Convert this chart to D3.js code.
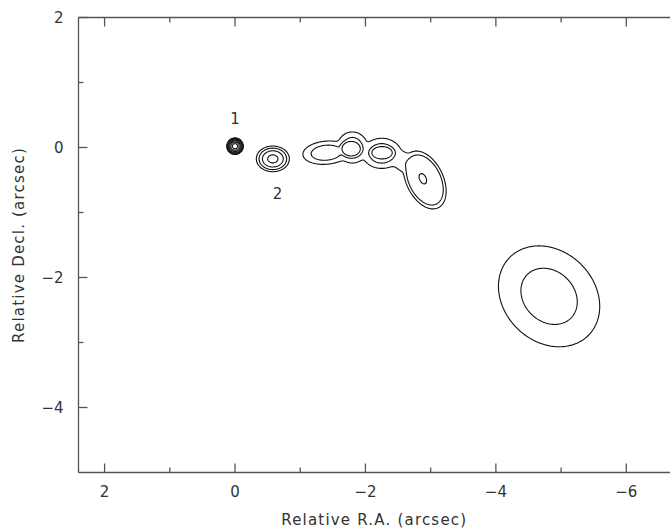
<!DOCTYPE html>
<html lang="en">
<head>
<meta charset="UTF-8">
<title>Contour map</title>
<script src="https://d3js.org/d3.v7.min.js"></script>
<style>
    body { margin: 0; background: #fff; }
    svg text { font-family: "DejaVu Sans", "Liberation Sans", sans-serif; fill: #333; font-size: 15px; }
    .frame { stroke: #555; stroke-width: 1.3; fill: none; }
    .contour { stroke: #111; stroke-width: 1.1; fill: none; }
</style>
</head>
<body>
<svg id="chart" width="670" height="531"></svg>
<script>
// axis ranges and ticks (arcsec)
const raDomain = [2.4, -6.67];
const decDomain = [2, -5];
const raMajor = [2, 0, -2, -4, -6];
const raMinor = [1, -1, -3, -5];
const decMajor = [2, 0, -2, -4];
const decMinor = [1, -1, -3];

// contour levels (arbitrary flux units)
const levels = [1, 2, 4, 8, 16, 32, 64];

// source components: position, widths, position angle, peak, profile shape
const compName  = ["src1", "src2", "J1", "J2", "J3", "neck", "knot", "coreA", "coreB", "dot", "knotCore", "beam"];
const compRA    = [0.00, -0.58, -1.40, -1.80, -2.25, -2.60, -2.91, -1.78, -2.255, -1.35, -2.88, -4.816];
const compDec   = [0.02, -0.175, -0.08, 0.00, -0.09, -0.23, -0.50, -0.02, -0.08, -0.05, -0.48, -2.29];
const compSigA  = [0.042, 0.118, 0.233, 0.15, 0.19, 0.22, 0.41, 0.158, 0.175, 0.02, 0.088, 0.60];
const compSigB  = [0.042, 0.092, 0.115, 0.155, 0.15, 0.13, 0.245, 0.124, 0.105, 0.02, 0.053, 0.49];
const compPA    = [0, 0, -5, 0, 0, 33, 64.5, 0, 0, 0, 64.5, 45];
const compPeak  = [100, 10, 3.3, 3.3, 3.3, 1.8, 3.3, 5, 5, 3.6, 5, 2.73];
const compShape = [1, 1, 1, 1, 1, 1, 3, 3, 3, 1, 3, 1];

// component labels
const labelText = ["1", "2"];
const labelRA   = [0.0, -0.65];
const labelDec  = [0.45, -0.70];

const svg = d3.select("#chart");
const margin = {left: 78.5, right: 0, top: 17.5, bottom: 58.5};
const W = +svg.attr("width"), H = +svg.attr("height");

const x = d3.scaleLinear().domain(raDomain).range([margin.left, W - margin.right]);
const y = d3.scaleLinear().domain(decDomain).range([margin.top, H - margin.bottom]);

// build the model grid
const step = 0.012;
const nx = Math.ceil((raDomain[0] - raDomain[1]) / step) + 1;
const ny = Math.ceil((decDomain[0] - decDomain[1]) / step) + 1;
const values = new Float64Array(nx * ny);
const K = 4; // soft-max exponent used to merge components

const comps = compName.map((n, i) => {
    const t = compPA[i] * Math.PI / 180;
    return {ra: compRA[i], dec: compDec[i], a: compSigA[i], b: compSigB[i],
            c: Math.cos(t), s: Math.sin(t), p: compPeak[i], k: compShape[i],
            reach: 4 * Math.max(compSigA[i], compSigB[i])};
});

for (let j = 0; j < ny; j++) {
    const dec = decDomain[0] - j * step;
    for (let i = 0; i < nx; i++) {
        const ra = raDomain[0] - i * step;
        let sum = 0;
        for (const c of comps) {
            const dx = ra - c.ra, dy = dec - c.dec;
            if (Math.abs(dx) > c.reach || Math.abs(dy) > c.reach) continue;
            const u = (dx * c.c + dy * c.s) / c.a;
            const v = (-dx * c.s + dy * c.c) / c.b;
            const q = u * u + v * v;
            const f = c.p * Math.exp(-0.5 * Math.pow(q, c.k));
            sum += Math.pow(f, K);
        }
        values[i + j * nx] = Math.pow(sum, 1 / K);
    }
}

const contours = d3.contours().size([nx, ny]).thresholds(levels)(values);

const gridToScreen = d3.geoTransform({
    point: function(gx, gy) {
        this.stream.point(x(raDomain[0] - (gx - 0.5) * step), y(decDomain[0] - (gy - 0.5) * step));
    }
});
const path = d3.geoPath(gridToScreen);

svg.append("clipPath").attr("id", "clip")
    .append("rect")
    .attr("x", margin.left).attr("y", margin.top)
    .attr("width", W - margin.left - margin.right)
    .attr("height", H - margin.top - margin.bottom);

svg.append("g")
    .attr("clip-path", "url(#clip)")
    .selectAll("path")
    .data(contours)
    .join("path")
    .attr("class", "contour")
    .attr("d", path);

// frame (left, top, bottom)
const frame = svg.append("g").attr("class", "frame");
frame.append("line").attr("x1", margin.left).attr("x2", W).attr("y1", margin.top).attr("y2", margin.top);
frame.append("line").attr("x1", margin.left).attr("x2", W).attr("y1", H - margin.bottom).attr("y2", H - margin.bottom);
frame.append("line").attr("x1", margin.left).attr("x2", margin.left).attr("y1", margin.top).attr("y2", H - margin.bottom);

// ticks pointing inward
const yTop = margin.top, yBot = H - margin.bottom;
const ticks = svg.append("g").attr("class", "frame");
raMajor.forEach(v => {
    ticks.append("line").attr("x1", x(v)).attr("x2", x(v)).attr("y1", yTop).attr("y2", yTop + 9);
    ticks.append("line").attr("x1", x(v)).attr("x2", x(v)).attr("y1", yBot).attr("y2", yBot - 9);
});
raMinor.forEach(v => {
    ticks.append("line").attr("x1", x(v)).attr("x2", x(v)).attr("y1", yTop).attr("y2", yTop + 5);
    ticks.append("line").attr("x1", x(v)).attr("x2", x(v)).attr("y1", yBot).attr("y2", yBot - 5);
});
decMajor.forEach(v => {
    ticks.append("line").attr("x1", margin.left).attr("x2", margin.left + 9).attr("y1", y(v)).attr("y2", y(v));
});
decMinor.forEach(v => {
    ticks.append("line").attr("x1", margin.left).attr("x2", margin.left + 5).attr("y1", y(v)).attr("y2", y(v));
});

const fmt = v => (v < 0 ? "\u2212" + Math.abs(v) : String(v));

svg.append("g").selectAll("text")
    .data(raMajor)
    .join("text")
    .attr("x", d => x(d))
    .attr("y", yBot + 24)
    .attr("text-anchor", "middle")
    .text(fmt);

svg.append("g").selectAll("text")
    .data(decMajor)
    .join("text")
    .attr("x", margin.left - 15)
    .attr("y", d => y(d) + 5.5)
    .attr("text-anchor", "end")
    .text(fmt);

// axis titles
svg.append("text")
    .attr("x", (margin.left + W) / 2)
    .attr("y", 525)
    .attr("text-anchor", "middle")
    .style("letter-spacing", "1.2px")
    .text("Relative R.A. (arcsec)");

svg.append("text")
    .attr("transform", "translate(24," + ((margin.top + yBot) / 2) + ") rotate(-90)")
    .attr("text-anchor", "middle")
    .style("letter-spacing", "1.2px")
    .text("Relative Decl. (arcsec)");

// component labels
svg.append("g").selectAll("text")
    .data(labelText)
    .join("text")
    .attr("x", (d, i) => x(labelRA[i]))
    .attr("y", (d, i) => y(labelDec[i]) + 5.5)
    .attr("text-anchor", "middle")
    .text(d => d);
</script>
</body>
</html>
